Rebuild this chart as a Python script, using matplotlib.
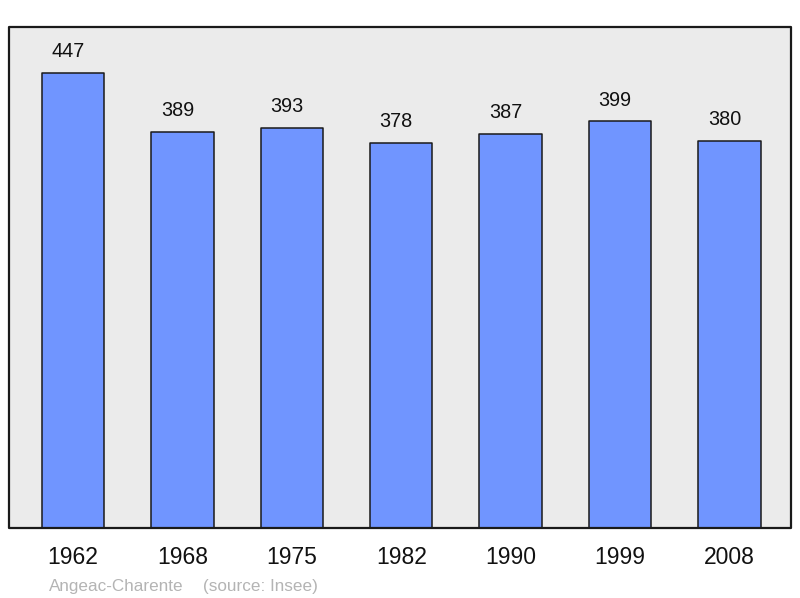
import matplotlib
matplotlib.use("Agg")
import matplotlib.pyplot as plt
from matplotlib.patches import Rectangle

# population data
years = ["1962", "1968", "1975", "1982", "1990", "1999", "2008"]
population = [447, 389, 393, 378, 387, 399, 380]
town = "Angeac-Charente"
source = "(source: Insee)"

plt.rcParams['font.family'] = ['Liberation Sans', 'DejaVu Sans']

fig = plt.figure(figsize=(8.0, 5.98), dpi=100)
ax = fig.add_axes([9/800, 1 - 528/598, 782/800, 501/598])
ax.set_facecolor("#ebebeb")

pos = list(range(len(years)))
ax.bar(pos, population, width=0.572, color="#7095ff", edgecolor="#1a1a1a",
       linewidth=1.1, joinstyle="round", zorder=2)

# labels sit a bit left of the bar centre in the original
for x, v in zip(pos, population):
    ax.annotate(str(v), (x, v), xytext=(-3.6, 8.5), textcoords="offset points",
                ha="center", va="bottom", fontsize=14.3, color="#111111")

ax.set_xlim(-0.585, 6.563)
ax.set_ylim(0, max(population) * 1.1)
ax.set_xticks(pos)
ax.set_xticklabels(years, fontsize=16.5, color="#111111")
ax.set_yticks([])
ax.tick_params(axis="x", length=0, pad=13)
for s in ax.spines.values():
    s.set_visible(False)

frame = Rectangle((0, 0), 1, 1, transform=ax.transAxes, fill=False,
                  edgecolor="#1a1a1a", linewidth=1.6, joinstyle="round",
                  clip_on=False, zorder=5)
ax.add_patch(frame)

fig.text(49/800, 1 - 591/598, town, fontsize=12.3, color="#b4b4b4",
         ha="left", va="baseline")
fig.text(203/800, 1 - 591/598, source, fontsize=12.3, color="#b4b4b4",
         ha="left", va="baseline")

fig.savefig("out.png", dpi=100, facecolor="white")
